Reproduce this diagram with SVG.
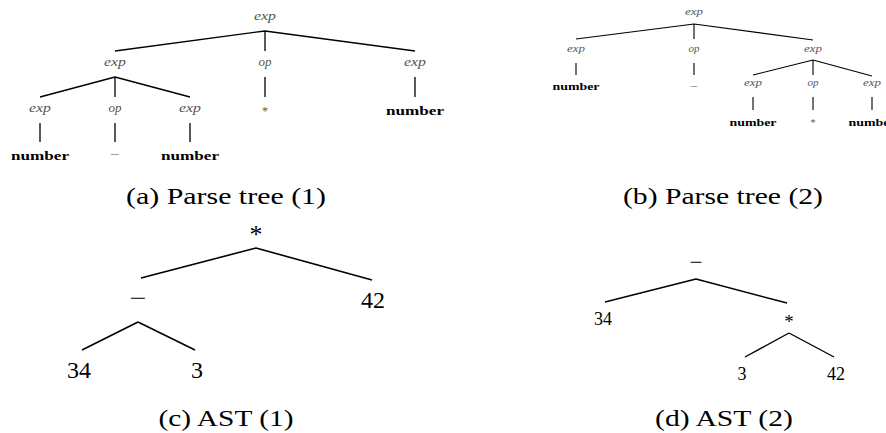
<svg xmlns="http://www.w3.org/2000/svg" width="886" height="433" viewBox="0 0 886 433" font-family="Liberation Serif, DejaVu Serif, serif">
<style>
text{font-family:'Liberation Serif','DejaVu Serif',serif;text-anchor:middle}
.nt{font-style:italic;fill:#555}
.ta{font-size:12px}
.tb{font-size:10px}
.num{font-weight:bold;fill:#000}
.na{font-size:13px}
.nb{font-size:11px}
.g{fill:#555}
.cap{font-size:24px;fill:#000}
.ast{fill:#000}
.e{stroke:#000;fill:none;stroke-linecap:butt}
.ea{stroke-width:1.3}
.eb{stroke-width:1.1}
.ec{stroke-width:1.6}
.ed{stroke-width:1.4}
</style>
<rect width="886" height="433" fill="#fff"/>

<g id="connectors">
  <g class="e ea">
    <path d="M265,31 L115,51 M265,31 L265,51 M265,31 L415,51"/>
    <path d="M115,77 L40,97 M115,77 L115,97 M115,77 L190,97 M265,77 L265,97 M415,77 L415,97"/>
    <path d="M40,123 L40,142 M115,123 L115,142 M190,123 L190,142"/>
  </g>
  <g class="e eb">
    <path d="M694,24 L576,39 M694,24 L694,39 M694,24 L813,40"/>
    <path d="M576,63 L576,75 M694,63 L694,75 M813,60 L753,75 M813,60 L813,75 M813,60 L872,76"/>
    <path d="M753,97 L753,110 M813,97 L813,110 M872,97 L872,110"/>
  </g>
  <g class="e ec">
    <path d="M256,248 L141,278 M256,248 L372,280"/>
    <path d="M138,322 L82,350 M138,322 L195,350"/>
  </g>
  <g class="e ed">
    <path d="M696,279 L605,302 M696,279 L787,303"/>
    <path d="M789,333 L745,357 M789,333 L834,357"/>
  </g>
</g>

<!-- Parse tree (1) -->
<g id="a-root"><text class="nt ta" x="265" y="20" textLength="22" lengthAdjust="spacingAndGlyphs">exp</text></g>
<g id="a-exp1"><text class="nt ta" x="115" y="66" textLength="22" lengthAdjust="spacingAndGlyphs">exp</text></g>
<g id="a-op1"><text class="nt ta" x="265" y="66" textLength="13" lengthAdjust="spacingAndGlyphs">op</text></g>
<g id="a-exp2"><text class="nt ta" x="415" y="66" textLength="22" lengthAdjust="spacingAndGlyphs">exp</text></g>
<g id="a-exp3"><text class="nt ta" x="40" y="112" textLength="22" lengthAdjust="spacingAndGlyphs">exp</text></g>
<g id="a-op2"><text class="nt ta" x="115" y="112" textLength="13" lengthAdjust="spacingAndGlyphs">op</text></g>
<g id="a-exp4"><text class="nt ta" x="190" y="112" textLength="22" lengthAdjust="spacingAndGlyphs">exp</text></g>
<g id="a-star"><text class="g ta" x="265" y="115">*</text></g>
<g id="a-num1"><text class="num na" x="415" y="115" textLength="58" lengthAdjust="spacingAndGlyphs">number</text></g>
<g id="a-num2"><text class="num na" x="40" y="160" textLength="58" lengthAdjust="spacingAndGlyphs">number</text></g>
<g id="a-minus"><text class="g ta" x="115" y="158" textLength="10" lengthAdjust="spacingAndGlyphs">−</text></g>
<g id="a-num3"><text class="num na" x="190" y="160" textLength="58" lengthAdjust="spacingAndGlyphs">number</text></g>
<g id="cap-a"><text class="cap" x="226" y="204" textLength="200" lengthAdjust="spacingAndGlyphs">(a) Parse tree (1)</text></g>

<!-- Parse tree (2) -->
<g id="b-root"><text class="nt tb" x="694" y="15" textLength="18" lengthAdjust="spacingAndGlyphs">exp</text></g>
<g id="b-exp1"><text class="nt tb" x="576" y="52" textLength="18" lengthAdjust="spacingAndGlyphs">exp</text></g>
<g id="b-op1"><text class="nt tb" x="694" y="52" textLength="11" lengthAdjust="spacingAndGlyphs">op</text></g>
<g id="b-exp2"><text class="nt tb" x="813" y="52" textLength="18" lengthAdjust="spacingAndGlyphs">exp</text></g>
<g id="b-num1"><text class="num nb" x="576" y="90" textLength="47" lengthAdjust="spacingAndGlyphs">number</text></g>
<g id="b-minus"><text class="g tb" x="694" y="90" textLength="8" lengthAdjust="spacingAndGlyphs">−</text></g>
<g id="b-exp3"><text class="nt tb" x="753" y="86" textLength="18" lengthAdjust="spacingAndGlyphs">exp</text></g>
<g id="b-op2"><text class="nt tb" x="813" y="86" textLength="11" lengthAdjust="spacingAndGlyphs">op</text></g>
<g id="b-exp4"><text class="nt tb" x="872" y="86" textLength="18" lengthAdjust="spacingAndGlyphs">exp</text></g>
<g id="b-num2"><text class="num nb" x="753" y="126" textLength="47" lengthAdjust="spacingAndGlyphs">number</text></g>
<g id="b-star"><text class="g tb" x="813" y="126">*</text></g>
<g id="b-num3"><text class="num nb" x="872" y="126" textLength="47" lengthAdjust="spacingAndGlyphs">number</text></g>
<g id="cap-b"><text class="cap" x="723" y="204" textLength="200" lengthAdjust="spacingAndGlyphs">(b) Parse tree (2)</text></g>

<!-- AST (1) -->
<g id="c-star"><text class="ast" x="256" y="243" font-size="26">*</text></g>
<g id="c-minus"><text class="ast" x="138" y="306" font-size="24" textLength="17" lengthAdjust="spacingAndGlyphs">−</text></g>
<g id="c-42"><text class="ast" x="373" y="308" font-size="24">42</text></g>
<g id="c-34"><text class="ast" x="79" y="378" font-size="24">34</text></g>
<g id="c-3"><text class="ast" x="197" y="378" font-size="24">3</text></g>
<g id="cap-c"><text class="cap" x="226" y="426" textLength="135" lengthAdjust="spacingAndGlyphs">(c) AST (1)</text></g>

<!-- AST (2) -->
<g id="d-minus"><text class="ast" x="696" y="268" font-size="18" textLength="13" lengthAdjust="spacingAndGlyphs">−</text></g>
<g id="d-34"><text class="ast" x="603" y="325" font-size="18">34</text></g>
<g id="d-star"><text class="ast" x="789" y="328" font-size="19">*</text></g>
<g id="d-3"><text class="ast" x="742" y="380" font-size="18">3</text></g>
<g id="d-42"><text class="ast" x="836" y="380" font-size="18">42</text></g>
<g id="cap-d"><text class="cap" x="724" y="426" textLength="138" lengthAdjust="spacingAndGlyphs">(d) AST (2)</text></g>
</svg>
